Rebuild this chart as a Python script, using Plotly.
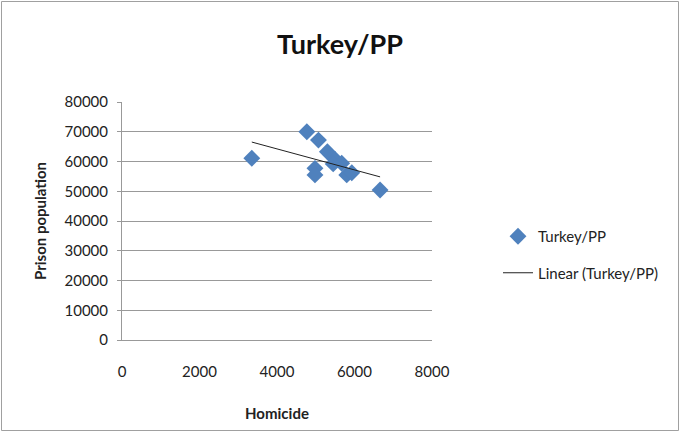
import numpy as np
import plotly.graph_objects as go

homicide = [3350, 4770, 5070, 5300, 5500, 5450, 5670, 4980, 4980, 5800, 5930, 6660]
prison_pop = [61100, 70000, 67200, 63300, 60700, 59200, 59400, 57700, 55500, 55500, 56200, 50400]
x_ticks = [0, 2000, 4000, 6000, 8000]
y_ticks = [0, 10000, 20000, 30000, 40000, 50000, 60000, 70000, 80000]
y_tick_labels = [str(v) for v in y_ticks]

slope, intercept = np.polyfit(homicide, prison_pop, 1)
tx = [min(homicide), max(homicide)]
ty = [slope * v + intercept for v in tx]

FONT = "Lato"
fig = go.Figure()
fig.add_trace(go.Scatter(
    x=homicide, y=prison_pop, mode="markers", name="Turkey/PP", legendgroup="a",
    marker=dict(symbol="diamond", size=13, color="#4F81BD"),
))
fig.add_trace(go.Scatter(
    x=tx, y=ty, mode="lines", name="Linear (Turkey/PP)", legendgroup="b",
    line=dict(color="#222222", width=1),
))

W, H = 680, 433
L, R, T, B = 122, 248, 102, 93
pw, ph = W - L - R, H - T - B

fig.update_layout(
    width=W, height=H,
    margin=dict(l=L, r=R, t=T, b=B, autoexpand=False),
    paper_bgcolor="white", plot_bgcolor="white",
    font=dict(family=FONT, size=15, color="#222222"),
    title=dict(text="<b>Turkey/PP</b>", x=0.5, xanchor="center", y=1 - 45 / H, yanchor="middle",
               font=dict(family=FONT, size=27, color="#111111")),
    showlegend=True,
    legend=dict(x=(498 - L) / pw, y=1 - (220 - T) / ph, xanchor="left", yanchor="top",
                font=dict(family=FONT, size=15), tracegroupgap=14, itemwidth=30,
                bgcolor="rgba(0,0,0,0)"),
    xaxis=dict(range=[0, 8000], tickvals=x_ticks, showgrid=False, zeroline=False,
               showline=True, linecolor="#999999", linewidth=1, ticks="",
               ticklabelstandoff=18, automargin=False,
               title=dict(text="<b>Homicide</b>", font=dict(family=FONT, size=15), standoff=29)),
    yaxis=dict(range=[0, 80000], tickvals=y_ticks, ticktext=y_tick_labels, showgrid=True,
               gridcolor="#999999", automargin=False,
               gridwidth=1, zeroline=False, showline=True, linecolor="#999999", linewidth=1,
               ticks="outside", ticklen=4, tickcolor="#999999", mirror=False,
               ticklabelstandoff=6,
               title=dict(text="<b>Prison population</b>", font=dict(family=FONT, size=15), standoff=14)),
)
# chart outer frame
fig.add_shape(type="rect", xref="paper", yref="paper",
              x0=(1.5 - L) / pw, x1=(W - 1.5 - L) / pw,
              y0=(B - 2.5) / -ph, y1=1 + (T - 1.5) / ph,
              line=dict(color="#a0a0a0", width=1), layer="below")
fig.write_html("out.html", config={"displayModeBar": False},
               post_script="document.body.style.margin='0';document.body.style.overflow='hidden';")
